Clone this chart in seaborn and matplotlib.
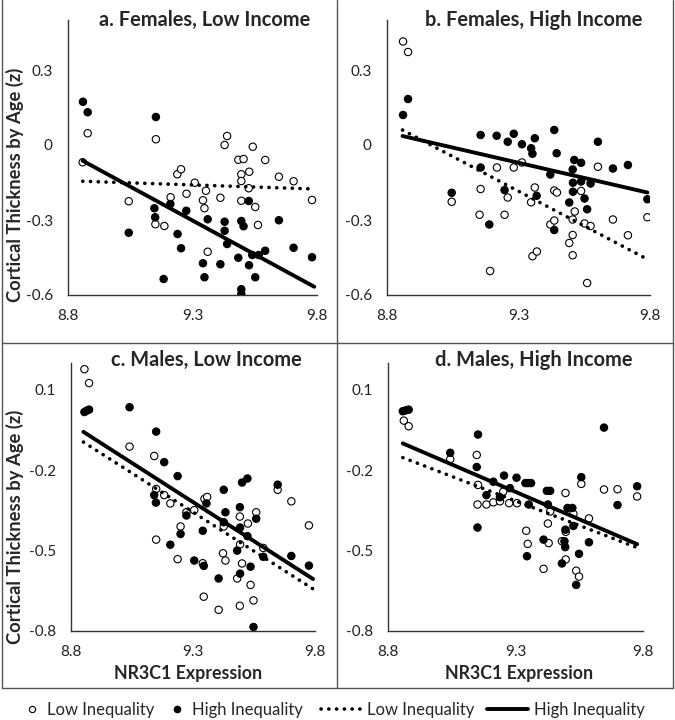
import pandas as pd
import matplotlib
matplotlib.use("Agg")
import matplotlib.pyplot as plt
from matplotlib.lines import Line2D
import seaborn as sns

# ---- data ----
# a. Females, Low Income
a_low_x = [8.859, 8.879, 9.153, 9.044, 9.151, 9.187, 9.212, 9.239, 9.254, 9.276, 9.309,
           9.354, 9.342, 9.348, 9.361, 9.412, 9.429, 9.439, 9.484, 9.505, 9.496, 9.496,
           9.496, 9.528, 9.526, 9.542, 9.552, 9.563, 9.592, 9.647, 9.706, 9.780]
a_low_y = [-0.069, 0.047, 0.023, -0.225, -0.317, -0.324, -0.209, -0.117, -0.097, -0.195, -0.151,
           -0.183, -0.221, -0.253, -0.427, -0.211, 0.000, 0.036, -0.059, -0.056, -0.117, -0.144,
           -0.223, -0.107, -0.173, -0.007, -0.248, -0.320, -0.060, -0.127, -0.145, -0.220]
a_high_x = [8.860, 8.879, 9.153, 9.147, 9.150, 9.044, 9.211, 9.240, 9.254, 9.275, 9.184,
            9.342, 9.348, 9.361, 9.429, 9.429, 9.439, 9.412, 9.496, 9.505, 9.526, 9.484,
            9.527, 9.496, 9.496, 9.552, 9.540, 9.566, 9.592, 9.647, 9.706, 9.780]
a_high_y = [0.173, 0.131, 0.112, -0.253, -0.289, -0.351, -0.236, -0.356, -0.413, -0.263, -0.536,
            -0.473, -0.529, -0.297, -0.307, -0.343, -0.396, -0.477, -0.304, -0.325, -0.224, -0.451,
            -0.481, -0.577, -0.596, -0.529, -0.440, -0.440, -0.423, -0.301, -0.411, -0.449]
a_fit_x = [8.859, 9.789]
a_fit_low = [-0.145, -0.176]
a_fit_high = [-0.063, -0.567]

# b. Females, High Income
b_low_x = [8.861, 8.880, 9.156, 9.046, 9.152, 9.218, 9.282, 9.313, 9.247, 9.259, 9.348,
           9.362, 9.192, 9.353, 9.370, 9.421, 9.436, 9.436, 9.446, 9.506, 9.514, 9.506,
           9.493, 9.506, 9.538, 9.551, 9.574, 9.561, 9.602, 9.659, 9.716, 9.790]
b_low_y = [0.414, 0.372, -0.176, -0.227, -0.279, -0.090, -0.090, -0.070, -0.279, -0.210, -0.229,
           -0.170, -0.504, -0.445, -0.426, -0.318, -0.302, -0.182, -0.190, -0.298, -0.266, -0.360,
           -0.392, -0.441, -0.184, -0.314, -0.324, -0.552, -0.087, -0.298, -0.361, -0.289]
b_high_x = [8.861, 8.880, 9.156, 9.217, 9.259, 9.282, 9.313, 9.348, 9.353, 9.362, 9.436,
            9.445, 9.156, 9.046, 9.189, 9.247, 9.369, 9.421, 9.436, 9.506, 9.512, 9.538,
            9.507, 9.507, 9.493, 9.538, 9.551, 9.561, 9.574, 9.602, 9.659, 9.716, 9.790]
b_high_y = [0.120, 0.184, 0.040, 0.037, 0.013, 0.045, 0.003, -0.013, -0.035, 0.027, 0.060,
            -0.033, -0.090, -0.191, -0.318, -0.180, -0.203, -0.118, -0.340, -0.098, -0.060, -0.071,
            -0.151, -0.187, -0.230, -0.146, -0.214, -0.257, -0.154, 0.013, -0.094, -0.080, -0.217]
b_fit_x = [8.859, 9.790]
b_fit_low = [0.060, -0.457]
b_fit_high = [0.036, -0.190]

# c. Males, Low Income
c_low_x = [8.855, 8.874, 9.040, 9.141, 9.149, 9.182, 9.207, 9.249, 9.237, 9.149, 9.273,
           9.305, 9.340, 9.344, 9.347, 9.358, 9.426, 9.423, 9.433, 9.405, 9.481, 9.492,
           9.493, 9.492, 9.501, 9.525, 9.536, 9.548, 9.559, 9.588, 9.647, 9.703, 9.775]
c_low_y = [0.177, 0.125, -0.112, -0.147, -0.270, -0.293, -0.324, -0.410, -0.532, -0.459, -0.357,
           -0.349, -0.547, -0.672, -0.307, -0.300, -0.410, -0.510, -0.537, -0.721, -0.604, -0.706,
           -0.477, -0.373, -0.548, -0.399, -0.628, -0.686, -0.357, -0.490, -0.273, -0.316, -0.406]
c_high_x = [8.855, 8.864, 8.874, 9.040, 9.149, 9.182, 9.237, 9.141, 9.148, 9.249, 9.207,
            9.273, 9.305, 9.340, 9.344, 9.355, 9.426, 9.433, 9.426, 9.405, 9.492, 9.493,
            9.481, 9.493, 9.501, 9.523, 9.523, 9.559, 9.536, 9.548, 9.588, 9.647, 9.703, 9.775]
c_high_y = [0.017, 0.022, 0.026, 0.035, -0.056, -0.170, -0.222, -0.293, -0.321, -0.438, -0.478,
            -0.369, -0.537, -0.426, -0.557, -0.324, -0.273, -0.357, -0.394, -0.604, -0.338, -0.414,
            -0.500, -0.586, -0.246, -0.231, -0.446, -0.381, -0.560, -0.785, -0.523, -0.254, -0.520, -0.556]
c_fit_x = [8.851, 9.792]
c_fit_low = [-0.095, -0.643]
c_fit_high = [-0.057, -0.606]

# d. Males, High Income
d_low_x = [8.862, 8.881, 9.044, 9.148, 9.153, 9.151, 9.186, 9.213, 9.239, 9.252, 9.275,
           9.306, 9.342, 9.348, 9.410, 9.427, 9.430, 9.436, 9.482, 9.497, 9.497, 9.496,
           9.527, 9.538, 9.549, 9.558, 9.588, 9.647, 9.700, 9.777]
d_low_y = [-0.015, -0.036, -0.159, -0.143, -0.255, -0.328, -0.328, -0.320, -0.316, -0.280, -0.323,
           -0.323, -0.426, -0.475, -0.568, -0.399, -0.472, -0.354, -0.465, -0.430, -0.533, -0.285,
           -0.363, -0.575, -0.597, -0.251, -0.380, -0.272, -0.271, -0.298]
d_high_x = [8.858, 8.869, 8.881, 9.153, 9.044, 9.148, 9.151, 9.186, 9.213, 9.239, 9.255,
            9.278, 9.304, 9.339, 9.349, 9.361, 9.352, 9.345, 9.410, 9.427, 9.423, 9.436,
            9.482, 9.492, 9.495, 9.496, 9.504, 9.523, 9.527, 9.538, 9.549, 9.558, 9.588,
            9.647, 9.700, 9.777]
d_high_y = [0.020, 0.023, 0.026, -0.067, -0.135, -0.188, -0.414, -0.293, -0.243, -0.301, -0.220,
            -0.267, -0.228, -0.248, -0.248, -0.248, -0.328, -0.521, -0.459, -0.328, -0.277, -0.277,
            -0.548, -0.465, -0.487, -0.422, -0.341, -0.341, -0.408, -0.628, -0.512, -0.226, -0.469,
            -0.041, -0.330, -0.260]
d_fit_x = [8.858, 9.777]
d_fit_low = [-0.153, -0.489]
d_fit_high = [-0.100, -0.476]

titles = ["a. Females, Low Income", "b. Females, High Income",
          "c. Males, Low Income", "d. Males, High Income"]
x_ticks = [8.8, 9.3, 9.8]
x_ticklabels = ["8.8", "9.3", "9.8"]
top_yticks = [-0.6, -0.3, 0, 0.3]
top_yticklabels = ["-0.6", "-0.3", "0", "0.3"]
bot_yticks = [-0.8, -0.5, -0.2, 0.1]
bot_yticklabels = ["-0.8", "-0.5", "-0.2", "0.1"]
group_names = ["Low Inequality", "High Inequality"]

sns.set_style("white")
plt.rcParams['font.family'] = ['Lato', 'DejaVu Sans']

W, H = 675, 720
fig = plt.figure(figsize=(W / 100, H / 100), dpi=100)


def box(left, top, right, bottom):
    return [left / W, 1 - bottom / H, (right - left) / W, (bottom - top) / H]


DOTS = (0, (0.05, 2.1))

panels = [
    (box(68, 20, 317, 295), a_low_x, a_low_y, a_high_x, a_high_y, a_fit_x, a_fit_low, a_fit_high,
     (-0.6, 0.5), top_yticks, top_yticklabels, (205, 20)),
    (box(387, 20, 650, 295), b_low_x, b_low_y, b_high_x, b_high_y, b_fit_x, b_fit_low, b_fit_high,
     (-0.6, 0.5), top_yticks, top_yticklabels, (534, 20)),
    (box(71, 363, 315, 631), c_low_x, c_low_y, c_high_x, c_high_y, c_fit_x, c_fit_low, c_fit_high,
     (-0.8, 0.2), bot_yticks, bot_yticklabels, (206, 360)),
    (box(388, 363, 643, 631), d_low_x, d_low_y, d_high_x, d_high_y, d_fit_x, d_fit_low, d_fit_high,
     (-0.8, 0.2), bot_yticks, bot_yticklabels, (534, 360)),
]

for i, (rect, lx, ly, hx, hy, fx, flow, fhigh, ylim, yt, ytl, tpos) in enumerate(panels):
    ax = fig.add_axes(rect)
    pts = pd.concat([
        pd.DataFrame({'x': lx, 'y': ly, 'group': group_names[0]}),
        pd.DataFrame({'x': hx, 'y': hy, 'group': group_names[1]}),
    ])
    sns.scatterplot(data=pts, x='x', y='y', hue='group',
                    palette={group_names[0]: 'white', group_names[1]: 'black'},
                    edgecolor='black', linewidth=0.8, s=28, legend=False, ax=ax, zorder=2)
    sns.lineplot(x=fx, y=flow, color='black', linewidth=2.6, linestyle=DOTS,
                 dash_capstyle='round', ax=ax, zorder=3)
    sns.lineplot(x=fx, y=fhigh, color='black', linewidth=2.8, ax=ax, zorder=3)

    ax.set_xlim(8.8, 9.8)
    ax.set_ylim(*ylim)
    ax.set_xticks(x_ticks)
    ax.set_xticklabels(x_ticklabels)
    ax.set_yticks(yt)
    ax.set_yticklabels(ytl)
    ax.tick_params(length=0, labelsize=11, colors='#222222')
    ax.tick_params(axis='x', pad=10)
    ax.tick_params(axis='y', pad=11)
    ax.set_xlabel('')
    ax.set_ylabel('')
    sns.despine(ax=ax)
    for sp in ['left', 'bottom']:
        ax.spines[sp].set_color('#333333')
        ax.spines[sp].set_linewidth(1.0)
    ax.patch.set_alpha(0)
    fig.text(tpos[0] / W, 1 - tpos[1] / H, titles[i], ha='center', va='center',
             fontsize=14.4, fontweight='bold')

# axis labels
for yc in [185, 527]:
    fig.text(15 / W, 1 - yc / H, "Cortical Thickness by Age (z)", rotation=90,
             ha='center', va='center', fontsize=13.2, fontweight='bold')
for xc in [188, 519]:
    fig.text(xc / W, 1 - 673 / H, "NR3C1 Expression", ha='center', va='center',
             fontsize=12.8, fontweight='bold')

# panel frame
frame_kw = dict(color='#555555', linewidth=1.0, transform=fig.transFigure)
for xs, ys in [([2, 2], [0, 688]), ([673, 673], [0, 688]), ([337, 337], [0, 688]),
               ([2, 673], [343, 343]), ([2, 673], [688, 688])]:
    fig.add_artist(Line2D([x / W for x in xs], [1 - y / H for y in ys], **frame_kw))

# legend: one entry per legend so each handle gets its own length
handles = [
    Line2D([], [], marker='o', linestyle='none', markerfacecolor='white',
           markeredgecolor='black', markersize=4.5, markeredgewidth=0.8),
    Line2D([], [], marker='o', linestyle='none', markerfacecolor='black',
           markeredgecolor='black', markersize=4.5),
    Line2D([], [], color='black', linewidth=2.6, linestyle=DOTS, dash_capstyle='round'),
    Line2D([], [], color='black', linewidth=2.8),
]
legend_labels = group_names + group_names
legend_starts = [24, 169, 321, 487]
legend_hlen = [0.96, 0.96, 2.4, 2.46]
legend_pad = [0.42, 0.42, 0.36, 0.36]
for h, lab, x0, hl, hp in zip(handles, legend_labels, legend_starts, legend_hlen, legend_pad):
    fig.legend([h], [lab], loc='center left', bbox_to_anchor=(x0 / W, 1 - 710 / H),
               frameon=False, fontsize=12, handlelength=hl, handletextpad=hp,
               borderpad=0, borderaxespad=0)

fig.savefig("out.png", dpi=100)
